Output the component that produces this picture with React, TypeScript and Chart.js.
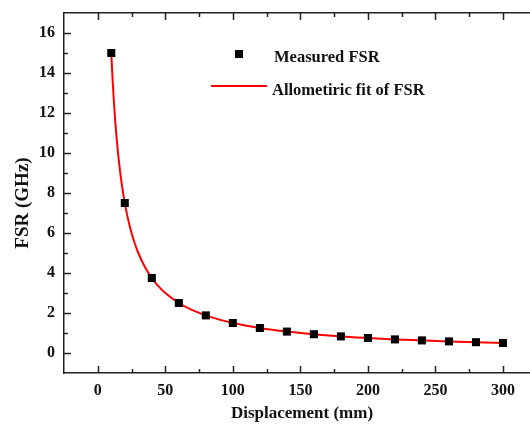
import React, { useEffect, useRef } from "react";
import { Chart, registerables } from "chart.js";

Chart.register(...registerables);

const measuredX = [10, 20, 40, 60, 80, 100, 120, 140, 160, 180, 200, 220, 240, 260, 280, 300];
const measuredY = [15.0, 7.5, 3.75, 2.5, 1.88, 1.5, 1.25, 1.07, 0.94, 0.83, 0.75, 0.68, 0.63, 0.58, 0.54, 0.5];

const fitX = [10, 11, 12, 13, 14, 15, 16, 18, 20, 22, 25, 28, 30, 35, 40, 45, 50, 60, 70, 80, 90, 100, 120, 140, 160, 180, 200, 220, 240, 260, 280, 300];
const fitY = [15.0, 13.64, 12.5, 11.54, 10.71, 10.0, 9.38, 8.33, 7.5, 6.82, 6.0, 5.36, 5.0, 4.29, 3.75, 3.33, 3.0, 2.5, 2.14, 1.88, 1.67, 1.5, 1.25, 1.07, 0.94, 0.83, 0.75, 0.68, 0.63, 0.58, 0.54, 0.5];

const xTicks = [0, 50, 100, 150, 200, 250, 300];
const yTicks = [0, 2, 4, 6, 8, 10, 12, 14, 16];

const legendLabels = ["Measured FSR", "Allometiric fit of FSR"];
const xTitle = "Displacement (mm)";
const yTitle = "FSR (GHz)";

const FONT = "'Liberation Serif', 'Times New Roman', serif";
const AXIS_COLOR = "#222";

const tickPlugin = {
  id: "innerTicks",
  afterDraw(chart: any) {
    const ctx = chart.ctx;
    const area = chart.chartArea;
    const xs = chart.scales.x;
    const ys = chart.scales.y;
    ctx.save();
    ctx.strokeStyle = AXIS_COLOR;
    ctx.lineWidth = 1.5;
    const drawX = (vals: number[], len: number) => {
      vals.forEach((v) => {
        const px = Math.round(xs.getPixelForValue(v)) + 0.5;
        if (px < area.left + 1 || px > area.right - 1) return;
        ctx.beginPath();
        ctx.moveTo(px, area.bottom);
        ctx.lineTo(px, area.bottom - len);
        ctx.moveTo(px, area.top);
        ctx.lineTo(px, area.top + len);
        ctx.stroke();
      });
    };
    const drawY = (vals: number[], len: number) => {
      vals.forEach((v) => {
        const py = Math.round(ys.getPixelForValue(v)) + 0.5;
        if (py < area.top + 1 || py > area.bottom - 1) return;
        ctx.beginPath();
        ctx.moveTo(area.left, py);
        ctx.lineTo(area.left + len, py);
        ctx.stroke();
      });
    };
    const mids = (arr: number[], lo: number, hi: number) => {
      const out: number[] = [];
      const step = arr[1] - arr[0];
      for (let i = -1; i < arr.length + 1; i++) {
        const v = arr[0] + step * i + step / 2;
        if (v > lo && v < hi) out.push(v);
      }
      return out;
    };
    drawX(xTicks, 7);
    drawX(mids(xTicks, xs.min, xs.max), 4);
    drawY(yTicks, 7);
    drawY(mids(yTicks, ys.min, ys.max), 4);

    // axis titles
    ctx.fillStyle = "#111";
    ctx.textAlign = "center";
    ctx.textBaseline = "middle";
    ctx.font = `bold 17px ${FONT}`;
    ctx.fillText(xTitle, 302, 414);
    ctx.save();
    ctx.translate(23, 203);
    ctx.rotate(-Math.PI / 2);
    ctx.font = `bold 19px ${FONT}`;
    ctx.fillText(yTitle, 0, 0);
    ctx.restore();

    // legend
    ctx.fillStyle = "#000";
    ctx.fillRect(235, 50, 8, 8);
    ctx.strokeStyle = "#ff0000";
    ctx.lineWidth = 2;
    ctx.beginPath();
    ctx.moveTo(211, 86);
    ctx.lineTo(267, 86);
    ctx.stroke();
    ctx.font = `bold 16.5px ${FONT}`;
    ctx.textBaseline = "middle";
    ctx.textAlign = "left";
    ctx.fillStyle = "#111";
    ctx.fillText(legendLabels[0], 274, 58);
    ctx.fillText(legendLabels[1], 272, 91);
    ctx.restore();
  },
};

export default function App() {
  const ref = useRef<HTMLCanvasElement>(null);
  useEffect(() => {
    document.body.style.margin = "0";
    const canvas = ref.current!;
    const chart = new Chart(canvas, {
      type: "scatter",
      data: {
        datasets: [
          {
            label: legendLabels[1],
            type: "line",
            data: fitX.map((x, i) => ({ x, y: fitY[i] })),
            borderColor: "#ff0000",
            borderWidth: 2,
            pointRadius: 0,
            cubicInterpolationMode: "monotone",
            fill: false,
            order: 2,
          },
          {
            label: legendLabels[0],
            data: measuredX.map((x, i) => ({ x, y: measuredY[i] })),
            backgroundColor: "#000",
            borderColor: "#000",
            borderWidth: 0,
            pointStyle: "rect",
            pointRadius: 5.7,
            order: 1,
          },
        ],
      },
      options: {
        animation: false,
        responsive: false,
        maintainAspectRatio: false,
        layout: { padding: 0, autoPadding: false },
        plugins: { legend: { display: false }, tooltip: { enabled: false } },
        scales: {
          x: {
            type: "linear",
            position: "bottom",
            min: -25,
            max: 320,
            grid: { display: false, drawTicks: false },
            border: { display: true, color: AXIS_COLOR, width: 1.5 },
            afterBuildTicks: (s: any) => {
              s.ticks = xTicks.map((v) => ({ value: v }));
            },
            ticks: {
              padding: 8,
              autoSkip: false,
              maxRotation: 0,
              color: "#111",
              font: { family: FONT, size: 16, weight: "bold" },
            },
            afterFit: (s: any) => {
              s.height = 53;
              s.paddingLeft = 0;
              s.paddingRight = 0;
            },
          },
          x2: {
            type: "linear",
            position: "top",
            min: -25,
            max: 320,
            grid: { display: false, drawTicks: false },
            border: { display: true, color: AXIS_COLOR, width: 1.5 },
            ticks: { display: false },
            afterFit: (s: any) => {
              s.height = 13;
            },
          },
          y: {
            type: "linear",
            min: -1,
            max: 17,
            grid: { display: false, drawTicks: false },
            border: { display: true, color: AXIS_COLOR, width: 1.5 },
            afterBuildTicks: (s: any) => {
              s.ticks = yTicks.map((v) => ({ value: v }));
            },
            ticks: {
              padding: 9,
              autoSkip: false,
              color: "#111",
              font: { family: FONT, size: 16, weight: "bold" },
            },
            afterFit: (s: any) => {
              s.width = 64;
              s.paddingTop = 0;
              s.paddingBottom = 0;
            },
          },
        },
      },
      plugins: [tickPlugin],
    });
    return () => chart.destroy();
  }, []);
  return (
    <div style={{ width: 530, height: 426, overflow: "hidden", background: "#fff" }}>
      <canvas ref={ref} width={530} height={426} style={{ display: "block" }} />
    </div>
  );
}
